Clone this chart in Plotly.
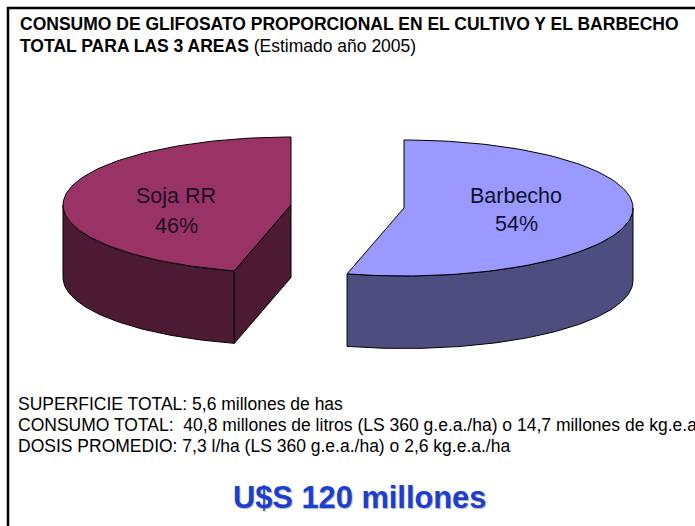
import numpy as np
import plotly.graph_objects as go

categories = ["Soja RR", "Barbecho"]
values = [46, 54]
top_colors = ["#993366", "#9999FF"]
side_colors = ["#4D1A33", "#4D4D80"]
title_bold = ["CONSUMO DE GLIFOSATO PROPORCIONAL EN EL CULTIVO Y EL BARBECHO", "TOTAL PARA LAS 3 AREAS"]
title_note = " (Estimado año 2005)"
notes = [
    "SUPERFICIE TOTAL: 5,6 millones de has",
    "CONSUMO TOTAL:  40,8 millones de litros (LS 360 g.e.a./ha) o 14,7 millones de kg.e.a",
    "DOSIS PROMEDIO: 7,3 l/ha (LS 360 g.e.a./ha) o 2,6 kg.e.a./ha",
]
headline = "U$S 120 millones"

W, H = 695, 526
DEPTH = 72.5
# Layout of each exploded slice: apex centre, ellipse radii, sweep direction
slice_geo = [
    dict(cx=291, cy=205, a=228, b=68, sign=-1),
    dict(cx=404, cy=208, a=229, b=68, sign=1),
]


def arc(geo, start, end, dy=0, n=120):
    t = np.radians(np.linspace(start, end, n))
    return geo["cx"] + geo["sign"] * geo["a"] * np.sin(t), geo["cy"] + dy - geo["b"] * np.cos(t)


fig = go.Figure()


def poly(x, y, color):
    fig.add_trace(go.Scatter(x=list(x), y=list(y), mode="lines", fill="toself", fillcolor=color,
                             line=dict(color="#000000", width=1), hoverinfo="skip", showlegend=False))


for geo, v, top, side in zip(slice_geo, values, top_colors, side_colors):
    sweep = v / sum(values) * 360
    # outer wall: visible from the widest point of the ellipse to the end of the sweep
    xa, ya = arc(geo, 90, sweep)
    xb, yb = arc(geo, sweep, 90, dy=DEPTH)
    poly(np.r_[xa, xb, xa[0]], np.r_[ya, yb, ya[0]], side)
    # cut face, only visible on the slice whose cut faces the viewer
    if geo["sign"] < 0:
        ex, ey = xa[-1], ya[-1]
        poly([geo["cx"], ex, ex, geo["cx"], geo["cx"]],
             [geo["cy"], ey, ey + DEPTH, geo["cy"] + DEPTH, geo["cy"]], side)
    # top face
    xt, yt = arc(geo, 0, sweep)
    poly(np.r_[geo["cx"], xt, geo["cx"]], np.r_[geo["cy"], yt, geo["cy"]], top)

# frame (left and top only are visible in the picture)
fig.add_trace(go.Scatter(x=[8, 8, W], y=[H, 8, 8], mode="lines", line=dict(color="#000000", width=2.5),
                         hoverinfo="skip", showlegend=False))

ann = []
base = "Liberation Sans"


def txt(x, y, s, size, color="#000000", anchor="left", **kw):
    ann.append(dict(x=x, y=y, xref="x", yref="y", text=s, showarrow=False, xanchor=anchor, yanchor="middle",
                    align=anchor, font=dict(family=base, size=size, color=color, **kw)))


txt(17.5, 24, "<b>%s</b>" % title_bold[0], 17.5)
txt(17.5, 46, "<b>%s</b>%s" % (title_bold[1], title_note), 17.5)
for s, y in zip(notes, [404, 425, 446]):
    txt(16, y, s, 17.5)
txt(176, 196, categories[0], 21.5, color="#1a1020", anchor="center")
txt(176, 226, "%d%%" % values[0], 21.5, color="#1a1020", anchor="center")
txt(516, 196, categories[1], 21.5, color="#101030", anchor="center")
txt(516, 224, "%d%%" % values[1], 21.5, color="#101030", anchor="center")
txt(359, 497, "<b>%s</b>" % headline, 30.8, color="#1A3FD2", anchor="center", shadow="1px 1px 1px #b0b0b0")

fig.update_layout(
    width=W, height=H, margin=dict(l=0, r=0, t=0, b=0), paper_bgcolor="#FFFFFF", plot_bgcolor="#FFFFFF",
    xaxis=dict(range=[0, W], visible=False, fixedrange=True),
    yaxis=dict(range=[H, 0], visible=False, fixedrange=True),
    showlegend=False, annotations=ann,
)
fig.write_html("out.html", config={"displayModeBar": False},
               post_script="document.body.style.margin='0';document.documentElement.style.overflow='hidden';")
